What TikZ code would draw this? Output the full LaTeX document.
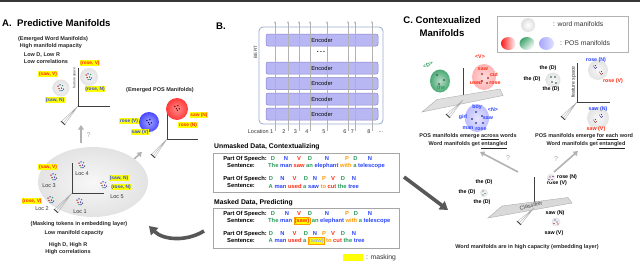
\documentclass[tikz,border=0pt]{standalone}
\usepackage{fontspec}
\setmainfont{Liberation Sans}
\usetikzlibrary{arrows.meta,calc}
\definecolor{cred}{HTML}{FF2A12}
\definecolor{cblue}{HTML}{2B44FF}
\definecolor{cgreen}{HTML}{2A9A5C}
\definecolor{corange}{HTML}{FF9A00}
\definecolor{encfill}{HTML}{B9B7F3}
\definecolor{encdraw}{HTML}{8583CC}
\definecolor{bertbox}{HTML}{9AAACB}
\definecolor{hl}{HTML}{FFFF00}
\definecolor{darkarr}{HTML}{575757}
\newcommand\Gw[1]{\textcolor{cgreen}{#1}}
\newcommand\Bw[1]{\textcolor{cblue}{#1}}
\newcommand\Rw[1]{\textcolor{cred}{#1}}
\newcommand\Ow[1]{\textcolor{corange}{#1}}
\newcommand\mkbox[1]{{\setlength\fboxsep{0.5pt}\setlength\fboxrule{0.35pt}\fcolorbox{corange}{hl}{#1}}}
\newcommand\myfan[2]{%
  \draw[gray!65,line width=0.35pt] (#1) -- ($(#2)+(1.7,1.5)$) (#1) -- (#2) (#1) -- ($(#2)+(-1.7,-1.5)$);
  \draw[black!75,line width=0.9pt] ($(#2)+(2,1.8)$) -- ($(#2)+(-2,-1.8)$);}
\tikzset{
  pics/mixcl/.style={code={
    \fill[red!75!black] (-3,-2) circle (0.75);
    \fill[cblue!80!black] (-1,-3.2) circle (0.75);
    \fill[cgreen] (1.5,-2.5) circle (0.75);
    \fill[red!75!black] (-2,0.5) circle (0.75);
    \fill[cblue!80!black] (0.5,0) circle (0.75);
    \fill[black!70] (2.5,1) circle (0.75);
    \fill[cblue!80!black] (1,2.5) circle (0.75);
    \fill[cgreen] (-1,2.5) circle (0.75);
  }},
  pics/dots/.style={code={
    \fill[#1] (-2.2,-1.5) circle (0.75);
    \fill[#1] (0.8,-2.2) circle (0.75);
    \fill[#1] (-0.6,0.6) circle (0.75);
    \fill[#1] (2.2,0.9) circle (0.75);
    \fill[#1] (0.3,2.3) circle (0.75);
  }},
}
\begin{document}
\begin{tikzpicture}[x=1pt,y=-1pt,
  txt/.style={font=\fontsize{5.5}{6.6}\selectfont\bfseries,inner sep=0pt,text=black!85},
  rtxt/.style={font=\fontsize{5.5}{6.5}\selectfont,inner sep=0pt,text=black!80},
  ttl/.style={font=\fontsize{9.6}{11.5}\selectfont\bfseries,inner sep=0pt},
  hdr/.style={font=\fontsize{6.8}{8}\selectfont\bfseries,inner sep=0pt,anchor=west},
  ylab/.style={fill=hl,inner sep=0.7pt,font=\fontsize{4.8}{5.6}\selectfont\bfseries},
  clab/.style={font=\fontsize{5.3}{6}\selectfont\bfseries,inner sep=0pt},
  sent/.style={font=\fontsize{5.8}{7}\selectfont\bfseries,inner sep=0pt,anchor=west},
  posl/.style={font=\fontsize{5.8}{7}\selectfont\bfseries,inner sep=0pt},
  axisln/.style={black!75,line width=0.5pt},
  garrow/.style={gray!60,line width=1.6pt,-{Triangle[length=4.5pt,width=5.5pt]}},
  bigarrow/.style={darkarr,line width=3.6pt,-{Triangle[length=8pt,width=10pt]}},
  encoder/.style={draw=encdraw,fill=encfill,rounded corners=2pt,minimum width=112pt,minimum height=12pt,inner sep=0pt,line width=0.5pt,font=\fontsize{5.7}{6.5}\selectfont},
  locline/.style={gray!60,line width=0.6pt,-{Stealth[length=2.5pt,width=2pt]}},
  wblob/.style={inner color=gray!6,outer color=gray!22},
  qmark/.style={font=\fontsize{7}{8}\selectfont,text=gray!70,inner sep=0pt},
]
\useasboundingbox (0,0) rectangle (640,273);
\fill[black!78] (0,0) rectangle (640,2.2);

% ================= Panel A =================
\node[ttl,anchor=west] (tA) at (2,23) {A.\ \ Predictive Manifolds};
\node[txt] (a1) at (53,39) {(Emerged Word Manifolds)};
\node[txt] (a2) at (51,46) {High manifold mapacity};
\node[txt] (a3) at (42,55) {Low D, Low R};
\node[txt] (a4) at (46,62) {Low correlations};

\coordinate (wo) at (78,106);
\coordinate (wy) at (78,68);
\coordinate (wx) at (110,106);
\coordinate (wz) at (63,123);
\draw[axisln] (wy) -- (wo) -- (wx);
\myfan{wo}{wz}
\node[rtxt,rotate=90,font=\fontsize{3.4}{4}\selectfont] (wfs) at (74.5,78) {feature space};

\shade[wblob] (61,88) circle (8.5);
\pic at (61,88) {mixcl};
\node[ylab,text=cred] (l1) at (48,74) {(saw, V)};
\node[ylab,text=cblue] (l2) at (55,100) {(saw, N)};
\shade[wblob] (89,77) circle (9);
\pic at (89,77) {mixcl};
\node[ylab,text=cred] (l3) at (90,63) {(rose, V)};
\node[ylab,text=cblue] (l4) at (95,89) {(rose, N)};

\node[txt] (a5) at (160,90) {(Emerged POS Manifolds)};
\coordinate (po) at (167,139);
\coordinate (py) at (167,110);
\coordinate (px) at (198,139);
\coordinate (pz) at (153,156);
\draw[axisln] (py) -- (po) -- (px);
\myfan{po}{pz}
\shade[inner color=red!45,outer color=red!78] (177,109) circle (11);
\pic at (177,108) {dots=red!35!black};
\node[ylab,text=cred] (l5) at (199,115) {saw (N)};
\node[ylab,text=cred] (l6) at (188,125) {rose (N)};
\shade[inner color=blue!35,outer color=blue!72] (149,122) circle (10);
\pic at (149,122) {dots=blue!45!black};
\node[ylab,text=cblue] (l7) at (129,121) {rose (V)};
\node[ylab,text=cblue] (l8) at (140,132) {saw (V)};

\coordinate (q1s) at (81,143);
\coordinate (q1e) at (81,125);
\draw[garrow] (q1s) -- (q1e);
\node[qmark] (qm1) at (88.5,135) {?};
\coordinate (q2s) at (125,167);
\coordinate (q2e) at (142,152);
\draw[garrow] (q2s) -- (q2e);
\node[qmark] (qm2) at (134.5,168) {?};

\shade[wblob] (93,182) ellipse (55 and 35);
\coordinate (bo) at (72,193);
\coordinate (by) at (72,163);
\coordinate (bx) at (104,193);
\coordinate (bz) at (56,211);
\draw[axisln] (by) -- (bo) -- (bx);
\myfan{bo}{bz}
\pic at (82,165) {mixcl};
\node[rtxt] (loc4) at (82,174) {Loc 4};
\node[ylab,text=cred] (l9) at (48,167) {(saw, V)};
\pic at (54,177) {mixcl};
\node[rtxt] (loc3) at (49,186) {Loc 3};
\node[ylab,text=cblue] (l10) at (119,178) {(saw, N)};
\node[ylab,text=cblue] (l11) at (121,187) {(rose, N)};
\pic at (104,185) {mixcl};
\node[rtxt] (loc5) at (117,197) {Loc 5};
\node[ylab,text=cred] (l12) at (32,201) {(rose, V)};
\pic at (51,200) {mixcl};
\node[rtxt] (loc2) at (42,209) {Loc 2};
\pic at (80,202) {mixcl};
\node[rtxt] (loc1) at (80,212) {Loc 1};

\node[txt] (a6) at (79,224) {(Masking tokens in embedding layer)};
\node[txt] (a7) at (74,233) {Low manifold capacity};
\node[txt] (a8) at (68,245) {High D, High R};
\node[txt] (a9) at (68,252) {High correlations};

\coordinate (cas) at (204,231);
\coordinate (cae) at (149,226);
\draw[bigarrow] (cas) .. controls (186,242) and (163,240) .. (cae);

% ================= Panel B =================
\node[ttl,anchor=west] (tB) at (216,26) {B.};
\node[draw=bertbox,line width=0.8pt,rounded corners=4pt,minimum width=124pt,minimum height=97pt,inner sep=0pt] (bert) at (321,75.5) {};
\node[rtxt,rotate=90,font=\fontsize{4.6}{5}\selectfont] (bertlbl) at (255.5,52) {BERT};
\node[encoder] (e1) at (322,40) {Encoder};
\node[encoder] (e2) at (322,68) {Encoder};
\node[encoder] (e3) at (322,83.5) {Encoder};
\node[encoder] (e4) at (322,99) {Encoder};
\node[encoder] (e5) at (322,114) {Encoder};
\node[font=\fontsize{7}{8}\selectfont\bfseries,inner sep=0pt] (edots) at (321,51.5) {.\,.\,.};
\foreach \x in {275,288,299,310,327,348,355,372}
  \draw[locline] (\x,131) -- (\x,21);
\node[rtxt,anchor=east] (lc1) at (273.5,132) {Location 1};
\node[rtxt] (lc2) at (284,132) {2};
\node[rtxt] (lc3) at (295.5,132) {3};
\node[rtxt] (lc4) at (307,132) {4};
\node[rtxt] (lc5) at (324,132) {5};
\node[rtxt] (lc6) at (345,132) {6};
\node[rtxt] (lc7) at (352.5,132) {7};
\node[rtxt] (lc8) at (369,132) {8};
\node[rtxt] (lc9) at (381,132) {...};

\node[hdr] (h1) at (214,147) {Unmasked Data, Contextualizing};
\node[draw=gray!70,line width=0.7pt,minimum width=186pt,minimum height=39pt,inner sep=0pt] (box1) at (306,172.5) {};
\node[hdr] (h2) at (214,203) {Masked Data, Predicting};
\node[draw=gray!70,line width=0.7pt,minimum width=186pt,minimum height=40pt,inner sep=0pt] (box2) at (306,228) {};

% row 1
\node[posl,anchor=east] (r1p) at (267,159) {Part Of Speech:};
\node[posl,anchor=west] (r1s) at (227,166) {Sentence:};
\foreach \x/\c/\t in {273/cgreen/D,286/cblue/N,299/cred/V,310/cgreen/D,327/cblue/N,347/corange/P,355.5/cgreen/D,370/cblue/N}
  \node[posl,text=\c] at (\x,159) {\t};
\node[sent] (s1) at (268,166) {\Gw{The} \Bw{man} \Rw{saw} \Gw{an} \Bw{elephant} \Ow{with} \Gw{a} \Bw{telescope}};
% row 2
\node[posl,anchor=east] (r2p) at (267,179) {Part Of Speech:};
\node[posl,anchor=west] (r2s) at (227,186) {Sentence:};
\foreach \x/\c/\t in {271/cgreen/D,282.5/cblue/N,294.5/cred/V,306/cgreen/D,315/cblue/N,324/corange/P,333/cred/V,343/cgreen/D,354/cblue/N}
  \node[posl,text=\c] at (\x,179) {\t};
\node[sent] (s2) at (268.5,186) {\Gw{A} \Bw{man} \Rw{used} \Gw{a} \Bw{saw} \Ow{to} \Rw{cut} \Gw{the} \Bw{tree}};
% row 3
\node[posl,anchor=east] (r3p) at (267,214) {Part Of Speech:};
\node[posl,anchor=west] (r3s) at (227,221) {Sentence:};
\foreach \x/\c/\t in {273/cgreen/D,287/cblue/N,299/cred/V,310/cgreen/D,327/cblue/N,347/corange/P,356/cgreen/D,370/cblue/N}
  \node[posl,text=\c] at (\x,214) {\t};
\node[sent] (s3) at (268,221) {\Gw{The} \Bw{man} \mkbox{\Rw{(saw)}} \Gw{an} \Bw{elephant} \Ow{with} \Gw{a} \Bw{telescope}};
% row 4
\node[posl,anchor=east] (r4p) at (267,234) {Part Of Speech:};
\node[posl,anchor=west] (r4s) at (227,241) {Sentence:};
\foreach \x/\c/\t in {271/cgreen/D,282.5/cblue/N,294.5/cred/V,306/cgreen/D,315/cblue/N,324/corange/P,333/cred/V,343/cgreen/D,354/cblue/N}
  \node[posl,text=\c] at (\x,234) {\t};
\node[sent] (s4) at (268.5,241) {\Gw{A} \Bw{man} \Rw{used} \Gw{a} \mkbox{\textcolor{cblue!45}{(saw)}} \Ow{to} \Rw{cut} \Gw{the} \Bw{tree}};

\node[fill=hl,minimum width=20pt,minimum height=7pt,inner sep=0pt] (mk) at (353,257.5) {};
\node[rtxt,anchor=west,font=\fontsize{6.8}{8}\selectfont] (mkl) at (366,258) {: masking};

\coordinate (bc1) at (404,177);
\coordinate (bc2) at (448,210);
\draw[bigarrow] (bc1) -- (bc2);

% ================= Panel C =================
\node[ttl] (tC1) at (442,20) {C. Contexualized};
\node[ttl] (tC2) at (442,33) {Manifolds};

\node[draw=gray!60,line width=0.6pt,minimum width=131pt,minimum height=36pt,inner sep=0pt] (leg) at (562.5,34) {};
\shade[inner color=white,outer color=gray!25] (528,25) circle (7);
\node[rtxt,anchor=west,font=\fontsize{6.8}{8}\selectfont] (legw) at (553,24) {: word manifolds};
\shade[left color=red!90,right color=white] (508.5,43.5) ellipse (7.5 and 6.5);
\shade[left color=cgreen!90,right color=white,shading angle=45] (527,43.5) ellipse (7.5 and 6.5);
\shade[left color=blue!35,right color=blue!12] (546.5,43.5) ellipse (7.5 and 6.5);
\node[rtxt,anchor=west,font=\fontsize{6.8}{8}\selectfont] (legp) at (560,43) {: POS manifolds};

% left C
\coordinate (co) at (463,100);
\coordinate (cy) at (463,68);
\coordinate (cz) at (448,116);
\draw[axisln] (cy) -- (co);
\filldraw[fill=gray!25,draw=gray!65,line width=0.4pt] (422,112) -- (437,99.5) -- (500,89) -- (503,95.5) -- cycle;
\myfan{co}{cz}
\shade[inner color=cgreen!35,outer color=cgreen!85] (440,81) ellipse (10 and 11.5);
\fill[black!80] (437,75) circle (0.8) (444,80) circle (0.8) (439,84) circle (0.8);
\node[clab,text=cgreen,rotate=25] (cD) at (428,65) {<D>};
\node[clab,text=cgreen] (cthe) at (441,88) {the};
\shade[inner color=red!14,outer color=red!30] (484,77) ellipse (12 and 13);
\fill[red!45!black] (482,74) circle (0.8) (488,78) circle (0.8) (482,81) circle (0.8) (487,83) circle (0.8);
\node[clab,text=cred] (cV) at (480,57) {<V>};
\node[clab,text=cred] (csaw) at (483,69) {saw};
\node[clab,text=cred] (ccut) at (494,75) {cut};
\node[clab,text=cred] (cused) at (476,83) {used};
\node[clab,text=cred] (crose) at (495,83) {rose};
\shade[inner color=blue!10,outer color=blue!26] (477,118) ellipse (12 and 14);
\fill[blue!40!black] (476,112) circle (0.8) (482,116) circle (0.8) (472,119) circle (0.8) (476,123) circle (0.8) (483,123) circle (0.8);
\node[clab,text=cblue] (cN) at (493,110) {<N>};
\node[clab,text=cblue] (cboy) at (477,107) {boy};
\node[clab,text=cblue] (cgirl) at (463,117) {girl};
\node[clab,text=cblue] (csaw2) at (488,118) {saw};
\node[clab,text=cblue] (cman) at (468,128) {man};
\node[clab,text=cblue] (crose2) at (481,129) {rose};
\node[txt] (c1) at (468,137) {POS manifolds emerge \underline{across} words};
\node[txt] (c2) at (468,145) {Word manifolds get \underline{entangled}};

% right C
\coordinate (ro) at (577,102);
\coordinate (ry) at (577,63);
\coordinate (rx) at (610,102);
\coordinate (rz) at (563,118);
\draw[axisln] (ry) -- (ro) -- (rx);
\myfan{ro}{rz}
\node[rtxt,rotate=90,font=\fontsize{5.2}{6}\selectfont] (rfs) at (573.5,82) {feature space};
\shade[wblob] (553,80) circle (7.5);
\fill[cgreen!60!black] (551,77) circle (0.8) (555,77) circle (0.8) (552,82) circle (0.8) (556,83) circle (0.8);
\node[clab] (rt1) at (548,68) {the (D)};
\node[clab] (rt2) at (532,79) {the (D)};
\node[clab] (rt3) at (551,89) {the (D)};
\shade[wblob] (598,70) circle (10);
\pic[scale=0.6] at (595,67) {dots=blue!50!black};
\pic[scale=0.6] at (601,73) {dots=red!50!black};
\node[clab,text=cblue] (rr1) at (596,60.5) {rose (N)};
\node[clab,text=cred] (rr2) at (613,81) {rose (V)};
\shade[wblob] (598,118) circle (11);
\pic[scale=0.6] at (601,116) {dots=blue!50!black};
\pic[scale=0.6] at (595,121) {dots=red!50!black};
\node[clab,text=cblue] (rs1) at (598,109) {saw (N)};
\node[clab,text=cred] (rs2) at (596,129) {saw (V)};
\node[txt,anchor=west] (c3) at (535,137) {POS manifolds emerge \underline{for each} word};
\node[txt] (c4) at (586,145) {Word manifolds get \underline{entangled}};

% bottom C
\coordinate (d1s) at (518,172);
\coordinate (d1e) at (480,152);
\draw[garrow] (d1s) -- (d1e);
\node[qmark] (qm3) at (508,158) {?};
\coordinate (d2s) at (554,172);
\coordinate (d2e) at (578,151);
\draw[garrow] (d2s) -- (d2e);
\node[qmark] (qm4) at (556,159) {?};
\coordinate (lo) at (534,208);
\coordinate (ly) at (534,177);
\coordinate (lz) at (519,223);
\draw[axisln] (ly) -- (lo);
\filldraw[fill=gray!30,draw=gray!65,line width=0.4pt] (488,218) -- (502,206) -- (568,197.5) -- (572,203) -- cycle;
\node[rtxt,rotate=13,font=\fontsize{5.6}{6}\selectfont,text=black!75] (clf) at (531,205.5) {Classifier};
\myfan{lo}{lz}
\node[clab] (lt1) at (484,182) {the (D)};
\node[clab] (lt2) at (467,192) {the (D)};
\node[clab] (lt3) at (482,202) {the (D)};
\shade[wblob] (484,193) circle (4);
\fill[cgreen!60!black] (483,191) circle (0.7) (485,193.5) circle (0.7) (483,195) circle (0.7);
\node[clab] (lr1) at (567,177) {rose (N)};
\node[clab] (lr2) at (557,183.5) {rose (V)};
\shade[wblob] (551,178) circle (4.2);
\fill[red!60!black] (550,177) circle (0.7) (552,179.5) circle (0.7);
\fill[blue!60!black] (549,179.5) circle (0.7) (553,176.5) circle (0.7);
\node[clab] (ls1) at (555,213) {saw (N)};
\shade[wblob] (556,222) circle (4.5);
\fill[blue!60!black] (555,220) circle (0.7) (557,222) circle (0.7);
\fill[red!60!black] (554,223.5) circle (0.7) (558,224) circle (0.7);
\node[clab] (ls2) at (554,233) {saw (V)};
\node[txt] (c5) at (527,247) {Word manifolds are in high capacity (embedding layer)};
\end{tikzpicture}
\end{document}
